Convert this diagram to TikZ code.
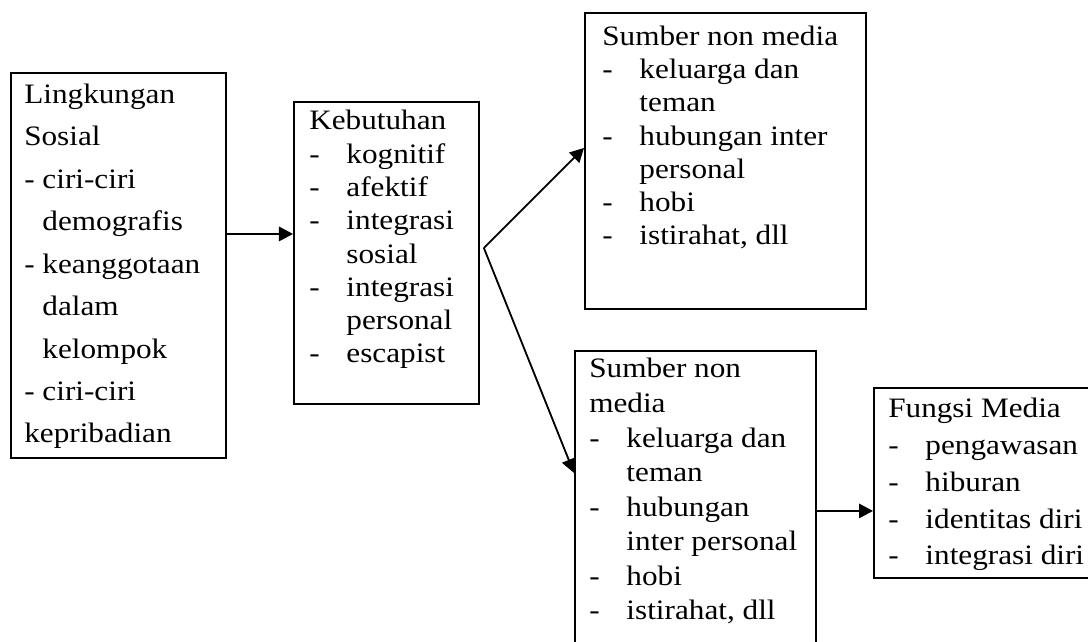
\documentclass[tikz,border=0pt]{standalone}
\usepackage{fontspec}
\setmainfont[FakeStretch=1.11]{Liberation Serif}
\usetikzlibrary{arrows.meta, positioning, calc}
\tikzset{
  kotak/.style = {rectangle, draw, line width=1.3pt, anchor=north west,
                  inner sep=0pt},
  isi/.style   = {anchor=base west, align=left, inner sep=0pt,
                  font=\fontsize{20}{23.7}\selectfont},
  panah/.style = {-{Triangle[length=0.35cm, width=0.36cm]}, line width=1.3pt},
}
\newcommand{\butir}[1]{\makebox[0.93cm][l]{-}#1}
\newcommand{\lanjut}[1]{\hspace*{0.93cm}#1}

\begin{document}
\begin{tikzpicture}[x=0.025cm, y=-0.025cm]
  \clip (0,0) rectangle (1088,642);
  % kotak-kotak
  \node[kotak, minimum width=5.375cm, minimum height=9.625cm] (sosial)    at (10,72)  {};
  \node[kotak, minimum width=4.625cm, minimum height=7.55cm]  (kebutuhan) at (293,101) {};
  \node[kotak, minimum width=7.025cm, minimum height=7.4cm]   (nonmediaA) at (584,12)  {};
  \node[kotak, minimum width=6.025cm, minimum height=7.5cm]   (nonmediaB) at (574,350) {};
  \node[kotak, minimum width=5.55cm,  minimum height=4.75cm]  (fungsi)    at (873,387) {};
  % isi kotak (base = baris terakhir)
  \node[isi, font=\fontsize{20}{30.2}\selectfont] (sosialIsi) at (24,443)
    {Lingkungan\\Sosial\\- ciri-ciri\\\phantom{- }demografis\\- keanggotaan\\
     \phantom{- }dalam\\\phantom{- }kelompok\\- ciri-ciri\\kepribadian};
  \node[isi] (kebutuhanIsi) at (309,363)
    {Kebutuhan\\\butir{kognitif}\\\butir{afektif}\\\butir{integrasi}\\
     \lanjut{sosial}\\\butir{integrasi}\\\lanjut{personal}\\\butir{escapist}};
  \node[isi] (nonmediaAIsi) at (602,245)
    {Sumber non media\\\butir{keluarga dan}\\\lanjut{teman}\\
     \butir{hubungan inter}\\\lanjut{personal}\\\butir{hobi}\\\butir{istirahat, dll}};
  \node[isi, font=\fontsize{20}{24.6}\selectfont] (nonmediaBIsi) at (589,620)
    {Sumber non\\media\\\butir{keluarga dan}\\\lanjut{teman}\\\butir{hubungan}\\
     \lanjut{inter personal}\\\butir{hobi}\\\butir{istirahat, dll}};
  \node[isi, font=\fontsize{20}{26.3}\selectfont] (fungsiIsi) at (888,565)
    {Fungsi Media\\\butir{pengawasan}\\\butir{hiburan}\\\butir{identitas diri}\\
     \butir{integrasi diri}};
  % panah
  \coordinate (a1) at ([yshift=0.7875cm]sosial.east);
  \draw[panah] (a1) -- (a1 -| kebutuhan.west);
  \coordinate (cabang) at ([xshift=0.1cm, yshift=0.125cm]kebutuhan.east);
  \draw[panah] (cabang) -- ([yshift=0.325cm]nonmediaA.west);
  \draw[panah] (cabang) -- ([yshift=0.7cm]nonmediaB.west);
  \coordinate (a4) at ([yshift=-0.7cm]fungsi.west);
  \draw[panah] (a4 -| nonmediaB.east) -- (a4);
\end{tikzpicture}
\end{document}
